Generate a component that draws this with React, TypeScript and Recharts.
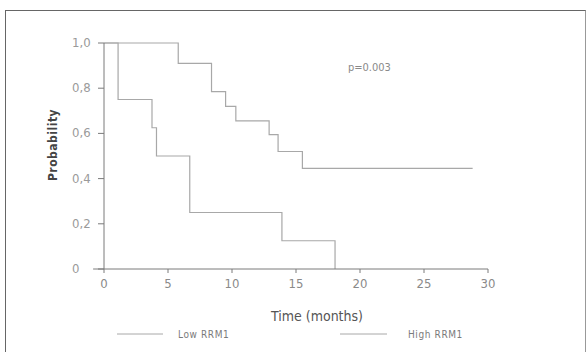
import React from "react";
import { LineChart, Line, XAxis, YAxis, ReferenceLine, Customized } from "recharts";

const lowTimes = [0, 5.8, 8.4, 9.5, 10.3, 12.9, 13.6, 15.5, 28.8];
const lowValues = [1.0, 0.91, 0.785, 0.72, 0.655, 0.595, 0.52, 0.445, 0.445];
const highTimes = [0, 1.1, 3.75, 4.1, 6.7, 13.9, 18.05];
const highValues = [1.0, 0.75, 0.625, 0.5, 0.25, 0.125, 0];
const xTicks = [0, 5, 10, 15, 20, 25, 30];
const yTicks = [0, 0.2, 0.4, 0.6, 0.8, 1.0];
const yTickLabels = ["0", "0,2", "0,4", "0,6", "0,8", "1,0"];
const seriesNames = ["Low RRM1", "High RRM1"];
const pValueText = "p=0.003";

const lowData = lowTimes.map((t, i) => ({ t, v: lowValues[i] }));
const highData = highTimes.map((t, i) => ({ t, v: highValues[i] }));

const FONT = "'DejaVu Sans Condensed', 'Liberation Sans Narrow', 'DejaVu Sans', sans-serif";
const LINE_COLOR = "#a8a8a8";
const AXIS_COLOR = "#7a7a7a";

const YTick = (props: any) => {
  const { y, payload } = props;
  const idx = yTicks.indexOf(payload.value);
  return (
    <text x={72} y={y} dy={4} textAnchor="start" fill="#9a9a9a" fontSize={13} fontFamily={FONT}>
      {idx >= 0 ? yTickLabels[idx] : String(payload.value)}
    </text>
  );
};

const XTick = (props: any) => {
  const { x, y, payload } = props;
  return (
    <text x={x} y={y} dy={13} textAnchor="middle" fill="#8a8a8a" fontSize={13} fontFamily={FONT}>
      {payload.value}
    </text>
  );
};

const Annotations = () => (
  <g fontFamily={FONT}>
    <text x={348} y={71} fill="#8a8a8a" fontSize={11}>{pValueText}</text>
    <text x={53} y={145} transform="rotate(-90 53 145)" textAnchor="middle" dominantBaseline="middle" fill="#444" fontSize={12} fontWeight="bold" letterSpacing={0.5}>Probability</text>
    <text x={317} y={321} textAnchor="middle" fill="#555" fontSize={14}>Time (months)</text>
    <line x1={117} y1={334} x2={163} y2={334} stroke={LINE_COLOR} strokeWidth={1} />
    <text x={178} y={338} fill="#7a7a7a" fontSize={10} letterSpacing={0.6}>{seriesNames[0]}</text>
    <line x1={340} y1={334} x2={387} y2={334} stroke={LINE_COLOR} strokeWidth={1} />
    <text x={408} y={338} fill="#7a7a7a" fontSize={10} letterSpacing={0.6}>{seriesNames[1]}</text>
  </g>
);

export default function App() {
  return (
    <div style={{ position: "absolute", left: 0, top: 0, width: 588, height: 352, background: "#fff" }}>
      <div style={{ position: "absolute", left: 5, top: 10, width: 581, height: 342, borderLeft: "1.5px solid #666", borderTop: "1.5px solid #666", borderRight: "1.5px solid #999", boxSizing: "border-box" }} />
      <LineChart width={588} height={352} margin={{ top: 43, right: 100, bottom: 0, left: 0 }}>
        <XAxis
          type="number"
          dataKey="t"
          domain={[0, 30]}
          ticks={xTicks}
          height={83}
          stroke={AXIS_COLOR}
          tickSize={4}
          tick={<XTick />}
          allowDataOverflow
        />
        <YAxis
          type="number"
          dataKey="v"
          domain={[0, 1]}
          ticks={yTicks}
          width={104}
          stroke={AXIS_COLOR}
          tickSize={6}
          tick={<YTick />}
        />
        <ReferenceLine segment={[{ x: -0.85, y: 0 }, { x: 0, y: 0 }]} stroke={AXIS_COLOR} ifOverflow="visible" />
        <Line data={lowData} dataKey="v" type="stepAfter" stroke={LINE_COLOR} strokeWidth={1.2} dot={false} isAnimationActive={false} name={seriesNames[0]} />
        <Line data={highData} dataKey="v" type="stepAfter" stroke={LINE_COLOR} strokeWidth={1.2} dot={false} isAnimationActive={false} name={seriesNames[1]} />
        <Customized component={<Annotations />} />
      </LineChart>
    </div>
  );
}
